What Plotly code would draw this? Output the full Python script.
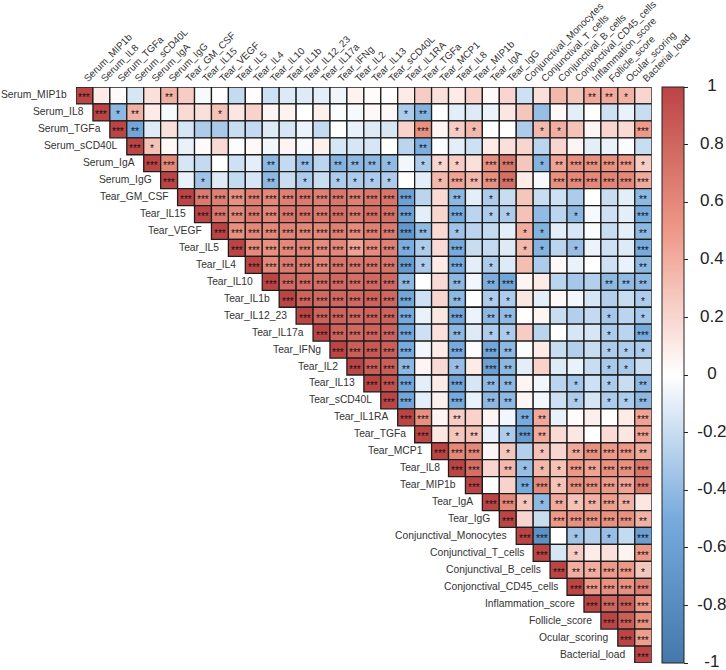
import plotly.graph_objects as go

labels = ["Serum_MIP1b", "Serum_IL8", "Serum_TGFa", "Serum_sCD40L", "Serum_IgA", "Serum_IgG",
          "Tear_GM_CSF", "Tear_IL15", "Tear_VEGF", "Tear_IL5", "Tear_IL4", "Tear_IL10", "Tear_IL1b",
          "Tear_IL12_23", "Tear_IL17a", "Tear_IFNg", "Tear_IL2", "Tear_IL13", "Tear_sCD40L", "Tear_IL1RA",
          "Tear_TGFa", "Tear_MCP1", "Tear_IL8", "Tear_MIP1b", "Tear_IgA", "Tear_IgG",
          "Conjunctival_Monocytes", "Conjunctival_T_cells", "Conjunctival_B_cells", "Conjonctival_CD45_cells",
          "Inflammation_score", "Follicle_score", "Ocular_scoring", "Bacterial_load"]

# Upper-triangle correlations: every row starts at its diagonal cell
r00 = [1, .1, .02, -.15, .15, .38, .25, -.03, .01, -.22, .01, -.18, -.13, -.12, -.1, -.06, .06, .02, .01, .1, .25, .15, .1, .22, .03, .2, -.18, .15, .35, .28, .42, .42, .38, .2]
r01 = [1, -.42, .38, .1, -.03, .18, .15, .3, .12, .22, .05, .06, 0, .07, -.01, -.03, .03, .03, -.3, -.45, 0, -.1, -.12, -.07, .12, .28, -.38, .03, -.1, 0, -.18, -.08, -.2]
r02 = [1, -.55, -.12, .15, -.15, -.3, -.32, -.2, -.22, -.12, -.15, -.07, -.22, 0, -.08, -.12, -.15, .22, .55, .05, .25, .35, 0, 0, -.3, .35, .4, .3, .05, .2, .18, .5]
r03 = [1, .3, .03, -.08, .02, .18, -.02, .03, -.05, .05, -.03, .07, -.15, -.15, -.15, 0, -.25, -.48, -.02, -.1, -.18, .1, .15, .2, -.25, .2, .05, -.1, -.08, -.02, -.2]
r04 = [1, .6, -.15, -.22, 0, -.18, -.1, -.42, -.22, -.38, -.25, -.45, -.42, -.42, -.4, -.05, -.3, .2, .25, .15, .55, .7, .28, -.45, .45, .55, .55, .55, .5, .25]
r05 = [1, -.08, -.35, -.12, -.22, -.15, -.42, -.2, -.3, -.2, -.3, -.3, -.3, -.3, 0, -.1, .35, .45, .35, .55, .75, .1, -.03, .55, .6, .6, .62, .6, .42]
r06 = [1, .68, .65, .55, .65, .6, .65, .68, .65, .7, .65, .7, .72, -.6, -.25, .18, -.42, -.1, -.3, -.2, .28, -.2, -.18, -.3, 0, -.2, -.1, -.42]
r07 = [1, .7, .6, .68, .62, .7, .72, .68, .75, .68, .75, .75, -.6, -.1, .2, -.5, -.25, -.3, -.3, .3, -.4, -.25, -.42, -.03, -.18, -.1, -.5]
r08 = [1, .55, .6, .6, .62, .6, .6, .65, .58, .65, .68, -.7, -.4, .18, -.35, -.25, -.22, -.1, .4, -.45, -.1, -.15, -.02, -.2, -.1, -.42]
r09 = [1, .58, .55, .6, .62, .58, .6, .45, .58, .65, -.48, -.3, .18, -.5, -.2, -.22, -.12, .35, -.45, -.25, -.38, -.07, -.18, -.12, -.5]
r10 = [1, .6, .68, .68, .62, .72, .7, .72, .72, -.65, -.3, .1, -.5, -.1, -.3, -.12, .32, -.3, .03, -.08, 0, -.18, -.08, -.42]
r11 = [1, .78, .75, .75, .78, .75, .78, .78, -.42, 0, .18, -.42, -.05, -.48, -.55, .05, .1, -.25, -.33, -.28, -.42, -.4, -.42]
r12 = [1, .82, .78, .8, .78, .82, .8, -.55, -.18, .2, -.42, 0, -.3, -.3, .12, -.1, .03, -.05, -.15, -.28, -.2, -.3]
r13 = [1, .82, .82, .78, .82, .82, -.5, -.08, .12, -.55, -.07, -.42, -.4, .01, .05, -.2, -.28, -.22, -.33, -.25, -.33]
r14 = [1, .82, .78, .82, .82, -.55, -.18, .15, -.42, -.12, -.3, -.3, .25, -.25, 0, -.15, -.15, -.3, -.25, -.5]
r15 = [1, .85, .88, .85, -.5, -.05, .1, -.5, -.02, -.55, -.42, -.02, .1, -.2, -.28, -.2, -.3, -.3, -.3]
r16 = [1, .85, .85, -.42, .05, .18, -.38, .1, -.6, -.42, -.1, .22, -.12, -.08, -.2, -.32, -.32, -.2]
r17 = [1, .92, -.55, -.1, .1, -.55, -.15, -.42, -.42, .05, -.05, -.25, -.33, -.18, -.3, -.2, -.42]
r18 = [1, -.55, -.1, .08, -.5, -.08, -.42, -.42, .05, -.05, -.18, -.3, -.15, -.3, -.3, -.42]
r19 = [1, .55, .05, .25, .22, .05, -.05, -.5, .42, -.08, .02, .08, .01, .1, .45]
r20 = [1, .12, .28, .3, -.08, -.3, -.65, .42, .18, .12, 0, .18, .12, .45]
r21 = [1, .6, .6, .05, .28, -.28, .3, .2, .42, .55, .5, .5, .42]
r22 = [1, .75, .2, .35, -.38, .35, .3, .5, .45, .55, .55, .7]
r23 = [1, 0, .22, -.5, .6, .3, .55, .55, .5, .45, .7]
r24 = [1, .6, .28, -.42, .42, .3, .38, .48, .38, .12]
r25 = [1, .2, -.2, .5, .55, .55, .55, .55, .38]
r26 = [1, -.75, 0, -.35, -.28, -.38, -.22, -.62]
r27 = [1, -.15, .25, .1, .15, .06, .5]
r28 = [1, .4, .4, .5, .5, .28]
r29 = [1, .5, .55, .55, .65]
r30 = [1, .8, .85, .5]
r31 = [1, .85, .55]
r32 = [1, .48]
r33 = [1]
value_rows = [r00, r01, r02, r03, r04, r05, r06, r07, r08, r09, r10, r11, r12, r13, r14, r15, r16,
              r17, r18, r19, r20, r21, r22, r23, r24, r25, r26, r27, r28, r29, r30, r31, r32, r33]

# Number of significance stars per cell, one digit per column ("-" below the diagonal)
s00 = "30000 20000 00000 00000 00000 00000 2210"
s01 = "-3120 00010 00000 00001 20000 00000 0000"
s02 = "--320 00000 00000 00000 30110 00110 0003"
s03 = "---31 00000 00000 00000 20000 00000 0000"
s04 = "----3 30000 02020 22210 11103 30123 3331"
s05 = "----- 30100 02010 11110 01323 30033 3333"
s06 = "----- -3333 33333 33333 00201 00000 0002"
s07 = "----- --333 33333 33333 00301 10001 0003"
s08 = "----- ---33 33333 33333 20100 01100 0002"
s09 = "----- ----3 33333 33332 10300 01101 0003"
s10 = "----- ----- 33333 33333 10301 00000 0002"
s11 = "----- ----- -3333 33332 00202 30000 0222"
s12 = "----- ----- --333 33333 00201 10000 0001"
s13 = "----- ----- ---33 33333 00302 20000 0101"
s14 = "----- ----- ----3 33333 00201 10000 0103"
s15 = "----- ----- ----- 33333 00303 20000 0111"
s16 = "----- ----- ----- -3332 00103 20000 0110"
s17 = "----- ----- ----- --333 00302 20001 0102"
s18 = "----- ----- ----- ---33 00302 20001 0112"
s19 = "----- ----- ----- ----3 30200 02200 0003"
s20 = "----- ----- ----- ----- 30120 13200 0003"
s21 = "----- ----- ----- ----- -3330 10102 3332"
s22 = "----- ----- ----- ----- --330 21113 2333"
s23 = "----- ----- ----- ----- ---30 02313 3333"
s24 = "----- ----- ----- ----- ----3 31121 2320"
s25 = "----- ----- ----- ----- ----- 30033 3332"
s26 = "----- ----- ----- ----- ----- -3301 0103"
s27 = "----- ----- ----- ----- ----- --301 0003"
s28 = "----- ----- ----- ----- ----- ---32 2331"
s29 = "----- ----- ----- ----- ----- ----3 3333"
s30 = "----- ----- ----- ----- ----- ----- 3333"
s31 = "----- ----- ----- ----- ----- ----- -333"
s32 = "----- ----- ----- ----- ----- ----- --33"
s33 = "----- ----- ----- ----- ----- ----- ---3"
star_rows = [s00, s01, s02, s03, s04, s05, s06, s07, s08, s09, s10, s11, s12, s13, s14, s15, s16,
             s17, s18, s19, s20, s21, s22, s23, s24, s25, s26, s27, s28, s29, s30, s31, s32, s33]

colorbar_ticks = [1, 0.8, 0.6, 0.4, 0.2, 0, -0.2, -0.4, -0.6, -0.8, -1]
colorbar_ticktext = ["1", "0.8", "0.6", "0.4", "0.2", "0", "-0.2", "-0.4", "-0.6", "-0.8", "-1"]

W, H = 726, 670
FONT = "Liberation Sans"
CELL = (651.7 - 76) / 34
scale = [[0, "#4477AA"], [0.25, "#77AADD"], [0.5, "#FFFFFF"], [0.75, "#EE9988"], [1, "#BB4444"]]

xs, ys, zs, annos = [], [], [], []
for i, row in enumerate(value_rows):
    stars = star_rows[i].replace(" ", "")
    assert len(stars) == 34 and len(row) == 34 - i, i
    # row label sits just left of its diagonal cell
    annos.append(dict(x=i, y=i, xref="x", yref="y", text=labels[i], showarrow=False, xanchor="right",
                      xshift=-CELL / 2 - 7, yshift=0.5, font=dict(family=FONT, size=10.3, color="#333333")))
    for k, v in enumerate(row):
        j = i + k
        xs.append(j); ys.append(i); zs.append(v)
        n = int(stars[j])
        if n:
            annos.append(dict(x=j, y=i, xref="x", yref="y", text="*" * n, showarrow=False, yshift=-2.5,
                              font=dict(family=FONT, size=10, color="#111111")))

fig = go.Figure()
fig.add_trace(go.Scatter(
    x=xs, y=ys, mode="markers", hoverinfo="skip", showlegend=False,
    marker=dict(symbol="square", size=CELL, color=zs, cmin=-1, cmax=1, colorscale=scale,
                line=dict(color="#1c1c1c", width=1.3),
                colorbar=dict(x=662 / W, xanchor="left", xpad=0, y=1, yanchor="top", ypad=0,
                              lenmode="pixels", len=576, thicknessmode="pixels", thickness=22,
                              outlinecolor="#222222", outlinewidth=1,
                              tickmode="array", tickvals=colorbar_ticks, ticks="outside", ticklen=4,
                              tickcolor="#222222", tickwidth=1, showticklabels=False))))
# centred colour bar labels
fig.add_trace(go.Scatter(
    x=[0.78] * len(colorbar_ticks), y=colorbar_ticks, text=colorbar_ticktext, xaxis="x2", yaxis="y2",
    mode="text", textposition="middle center", hoverinfo="skip", showlegend=False, cliponaxis=False,
    textfont=dict(family=FONT, size=17, color="#222222")))

fig.update_layout(
    template="none",
    width=W, height=H, autosize=False,
    margin=dict(l=0, r=0, t=87.3, b=6.7, autoexpand=False),
    paper_bgcolor="white", plot_bgcolor="white",
    annotations=annos,
    xaxis=dict(domain=[76 / W, 651.7 / W], range=[-0.5, 33.5], side="top", tickmode="array",
               tickvals=list(range(len(labels))), ticktext=labels, tickangle=-45, ticks="",
               tickfont=dict(family=FONT, size=9.9, color="#333333"), showgrid=False, zeroline=False,
               showline=False, anchor="y", automargin=False),
    yaxis=dict(range=[33.5, -0.5], visible=False, anchor="x", domain=[0, 1], automargin=False),
    xaxis2=dict(domain=[662 / W, 1], range=[0, 1], visible=False, anchor="y2"),
    yaxis2=dict(domain=[0, 1], range=[-1, 1], visible=False, anchor="x2"),
)
fig.write_html("out.html", config={"displayModeBar": False},
               post_script="document.body.style.margin='0';document.documentElement.style.overflow='hidden';")
